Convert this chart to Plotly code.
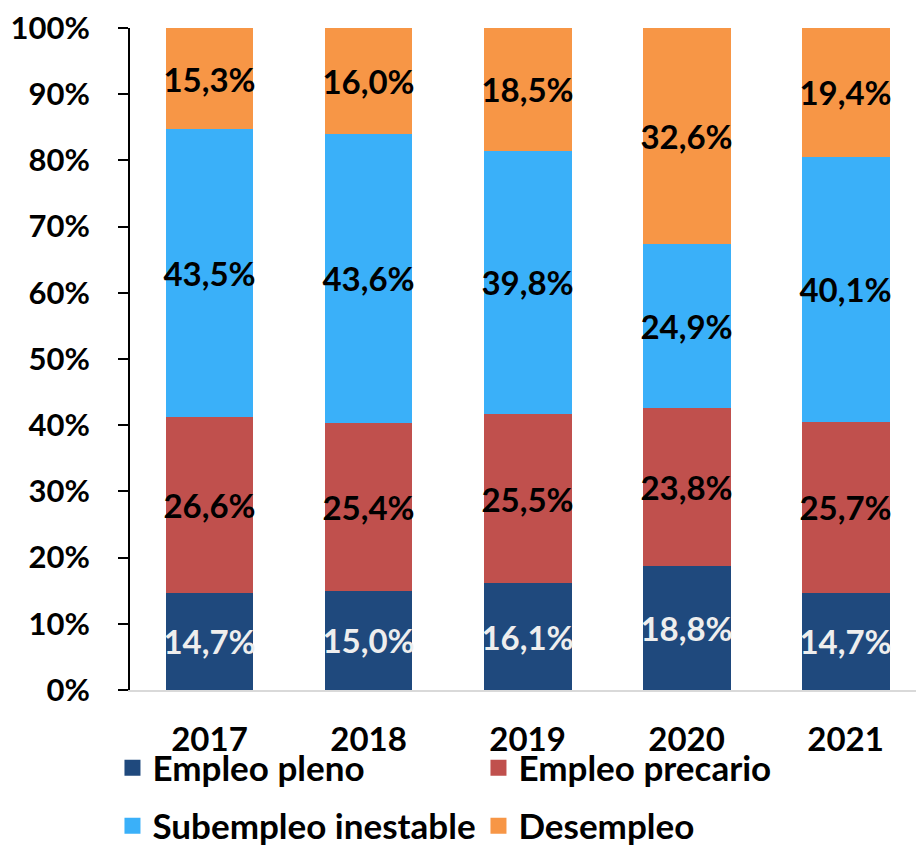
import plotly.graph_objects as go

years = ["2017", "2018", "2019", "2020", "2021"]
series_names = ["Empleo pleno", "Empleo precario", "Subempleo inestable", "Desempleo"]
pleno = [14.7, 15.0, 16.1, 18.8, 14.7]
precario = [26.6, 25.4, 25.5, 23.8, 25.7]
subempleo = [43.5, 43.6, 39.8, 24.9, 40.1]
desempleo = [15.3, 16.0, 18.5, 32.6, 19.4]
ytick_vals = [0, 10, 20, 30, 40, 50, 60, 70, 80, 90, 100]
ytick_text = ["0%", "10%", "20%", "30%", "40%", "50%", "60%", "70%", "80%", "90%", "100%"]

colors = ["#1F497D", "#C0504D", "#3AB0F9", "#F79646"]
label_colors = ["#EEEEEE", "#000000", "#000000", "#000000"]
series = [pleno, precario, subempleo, desempleo]

FONT = "Lato"

def fmt(v):
    return f"{v:.1f}".replace(".", ",") + "%"

fig = go.Figure()
for name, vals, col, lc in zip(series_names, series, colors, label_colors):
    fig.add_trace(go.Bar(
        x=years, y=vals, name=name, marker=dict(color=col, line=dict(width=0)),
        text=[fmt(v) for v in vals], textposition="inside", textangle=0,
        insidetextanchor="middle", constraintext="none",
        textfont=dict(family=FONT, size=33, color=lc, weight="bold"),
        width=0.553, showlegend=False, hoverinfo="skip",
    ))

# legend entries (two rows as two legends)
for i, (name, col) in enumerate(zip(series_names, colors)):
    fig.add_trace(go.Scatter(
        x=[None], y=[None], mode="markers", name=name,
        marker=dict(symbol="square", size=22, color=col),
        legend="legend" if i < 2 else "legend2", showlegend=True,
    ))

legend_common = dict(
    orientation="h", xanchor="left", yanchor="middle",
    font=dict(family=FONT, size=35, color="#000000", weight="bold"),
    entrywidth=321, entrywidthmode="pixels", itemsizing="trace",
    bgcolor="rgba(0,0,0,0)", traceorder="normal",
)

fig.update_layout(
    width=916, height=845,
    margin=dict(l=130, r=0, t=28, b=155, autoexpand=False),
    paper_bgcolor="white", plot_bgcolor="white",
    barmode="stack", barnorm="percent",
    legend=dict(x=-0.0223, y=-0.1178, **legend_common),
    legend2=dict(x=-0.0223, y=-0.2055, **legend_common),
    xaxis=dict(
        range=[-0.5, 4.443], showgrid=False, zeroline=False,
        showline=True, linecolor="#D9D9D9", linewidth=2,
        ticks="", ticklabelstandoff=19, automargin=False,
        tickfont=dict(family=FONT, size=33, color="#000000", weight="bold"),
    ),
    yaxis=dict(
        range=[0, 100], tickvals=ytick_vals, ticktext=ytick_text,
        showgrid=False, zeroline=False, showline=True, linecolor="#000000", linewidth=2,
        ticks="outside", ticklen=10, tickwidth=2, tickcolor="#000000",
        ticklabelstandoff=22, automargin=False,
        tickfont=dict(family=FONT, size=31, color="#000000", weight="bold"),
    ),
)

fig.write_html(
    "out.html",
    config={"displayModeBar": False},
    post_script="document.body.style.margin='0';document.body.style.overflow='hidden';",
)
